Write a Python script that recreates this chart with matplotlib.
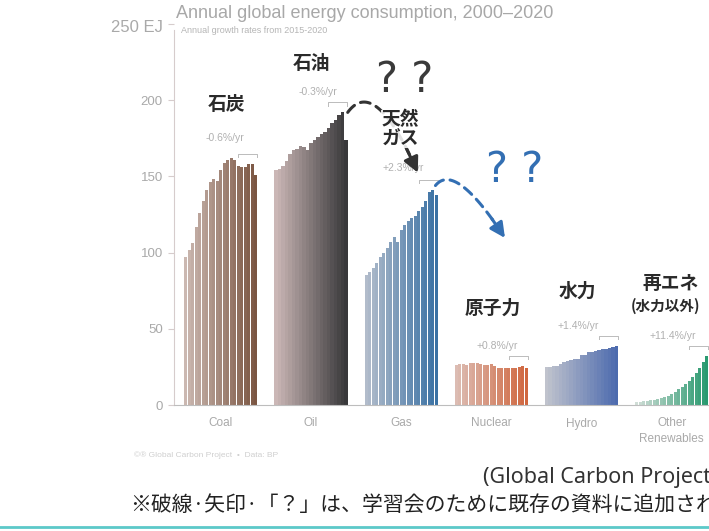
import numpy as np
import matplotlib
matplotlib.use("Agg")
import matplotlib.pyplot as plt
from matplotlib.colors import to_rgb

plt.rcParams['font.family'] = ['Liberation Sans', 'DejaVu Sans']

# ---------------- data (EJ, 2000-2020) ----------------
years = list(range(2000, 2021))
categories = ["Coal", "Oil", "Gas", "Nuclear", "Hydro", "Other\nRenewables"]
coal = [97, 102, 106, 117, 126, 134, 141, 146, 148, 147, 154, 159, 161, 162, 161, 157, 156, 156, 158, 158, 151]
oil = [154, 155, 157, 160, 165, 167, 168, 170, 169, 167, 172, 174, 176, 178, 179, 182, 185, 187, 190, 192, 174]
gas = [85, 87, 90, 93, 97, 100, 103, 107, 110, 107, 115, 118, 121, 123, 124, 127, 130, 134, 140, 141, 138]
nuclear = [26.5, 27, 27, 26.5, 27.5, 27.5, 27.5, 27, 26.5, 26, 27, 25.5, 24, 24, 24.5, 24.5, 24.5, 24.5, 25, 25.5, 24]
hydro = [25, 25, 25.5, 25.5, 27, 28, 29, 29.5, 30.5, 30.5, 32.5, 33, 34.5, 35, 35.5, 36, 36.5, 37, 37.5, 38, 38.5]
other = [2, 2.2, 2.4, 2.7, 3.0, 3.4, 3.9, 4.5, 5.3, 6.2, 7.4, 8.8, 10.4, 12.0, 13.8, 15.9, 18.2, 21.2, 24.5, 28.0, 32.0]
series = [coal, oil, gas, nuclear, hydro, other]
growth = ["-0.6%/yr", "-0.3%/yr", "+2.3%/yr", "+0.8%/yr", "+1.4%/yr", "+11.4%/yr"]
jp_labels = ["石炭", "石油", "天然\nガス", "原子力", "水力", "再エネ"]
yticks = [0, 50, 100, 150, 200, 250]
ytick_labels = ["0", "50", "100", "150", "200", ""]
top_label = "250 EJ"

# colour ramps (first year -> last year)
ramps = [("#cbb8b1", "#7b5642"), ("#cbb7b6", "#38383a"), ("#b2bccb", "#3b72a4"),
         ("#dcbcb3", "#d0673f"), ("#c0c3cd", "#4d6bae"), ("#d0ddd6", "#2a9a70")]

W, H = 709, 531
fig = plt.figure(figsize=(W / 100, H / 100), dpi=100)

# axes placed so that y=0 at 405px, y=250 at 24px, left spine at 174px
ax = fig.add_axes([174 / W, 1 - 405 / H, (W - 174) / W, (405 - 24) / H])
ax.patch.set_alpha(0)
GAP = 25.77
XL = -3.36
ax.set_xlim(XL, XL + (W - 174) / 3.5)
ax.set_ylim(0, 250)

n = len(years)
idx = np.arange(n)
for g, vals in enumerate(series):
    c0, c1 = np.array(to_rgb(ramps[g][0])), np.array(to_rgb(ramps[g][1]))
    t = idx / (n - 1)
    cols = [tuple(c0 + (c1 - c0) * tt) for tt in t]
    ax.bar(g * GAP + idx, vals, width=0.9, color=cols, linewidth=0, zorder=2)

grey = "#a9a9a9"
for s in ["top", "right"]:
    ax.spines[s].set_visible(False)
ax.spines["left"].set_color("#d6cccc")
ax.spines["left"].set_bounds(0, 246)
ax.spines["bottom"].set_color("#bdbdbd")
ax.set_yticks(yticks)
ax.set_yticklabels(ytick_labels, color=grey, fontsize=9.5)
ax.tick_params(axis="y", length=4, color="#d6cccc", pad=4)
ax.text(-0.02, 248, top_label, transform=ax.get_yaxis_transform(), ha="right", va="center",
        color=grey, fontsize=12)
ax.set_xticks([g * GAP + (n - 1) / 2 for g in range(len(categories))])
ax.set_xticklabels(categories, color=grey, fontsize=8.5, linespacing=1.4)
ax.tick_params(axis="x", length=0, pad=9)

# growth-rate brackets and labels
for g, vals in enumerate(series):
    x0, x1 = g * GAP + 15, g * GAP + 20.4
    yb = max(vals[15:]) + 6.5
    ax.plot([x0, x0, x1, x1], [yb - 2, yb, yb, yb - 2], color="#bbbbbb", lw=0.7, zorder=3)

jp = ['Noto Sans CJK JP', 'DejaVu Sans']
lab_pos = [(11.5, 197.5), (35.8, 224.4), (61.3, 181), (87.8, 63.6), (111.8, 74.8), (138.4, 80)]
rate_pos = [(11.2, 175), (37.8, 205.4), (62.1, 155.5), (88.9, 38.7), (112.1, 51.8), (139.2, 45.3)]
for g in range(len(categories)):
    ax.text(*rate_pos[g], growth[g], color="#b0b0b0", fontsize=7.5, ha="center", va="center", zorder=4)

# dashed annotation curves (added in the source)
def dashed_curve(p0, c, p2, color, lw):
    t = np.linspace(0, 1, 60)[:, None]
    p0, c, p2 = map(np.array, (p0, c, p2))
    pts = (1 - t) ** 2 * p0 + 2 * (1 - t) * t * c + t ** 2 * p2
    ax.plot(pts[:-6, 0], pts[:-6, 1], ls=(0, (3.2, 2.2)), color=color, lw=lw, zorder=5,
            dash_capstyle="round")
    ax.annotate("", xy=pts[-1], xytext=pts[-9],
                arrowprops=dict(arrowstyle="-|>,head_length=0.9,head_width=0.45",
                                color=color, lw=lw, shrinkA=0, shrinkB=0), zorder=6)

oil_end = (1 * GAP + n - 0.5, max(oil))
dashed_curve(oil_end, (54.1, 216.5), (66.3, 152.5), "#333333", 2.2)
gas_end = (2 * GAP + n - 1.2, max(gas) + 3)
dashed_curve(gas_end, (77.0, 160.0), (91.2, 109.6), "#336fb3", 2.2)

for g in range(len(categories)):
    kw = {}
    if g == 2:
        kw["bbox"] = dict(facecolor="white", edgecolor="none", pad=0.2, alpha=0.85)
    ax.text(*lab_pos[g], jp_labels[g], family=jp, fontsize=13.5, fontweight="bold",
            color="#2a2a2a", ha="center", va="center", linespacing=1.0, zorder=7, **kw)
ax.text(137.2, 65, "(水力以外)", family=jp, fontsize=10.5, fontweight="bold", color="#2a2a2a",
        ha="center", va="center", zorder=7)

ax.text(62.6, 213.5, "? ?", fontsize=30, color="#3a3a3a", ha="center", va="center",
        family="DejaVu Sans", zorder=7)
ax.text(94.1, 154.2, "? ?", fontsize=30, color="#336fb3", ha="center", va="center",
        family="DejaVu Sans", zorder=7)

# titles and notes (figure pixel positions)
def ftext(px, py, s, **kw):
    fig.text(px / W, 1 - py / H, s, **kw)

ftext(176, 13, "Annual global energy consumption, 2000–2020", color="#a8a8a8", fontsize=13, va="center")
ftext(181, 31, "Annual growth rates from 2015-2020", color="#b5b5b5", fontsize=6.5, va="center")
ftext(134, 455, "©® Global Carbon Project  •  Data: BP", color="#cfcfcf", fontsize=6, va="center")
ftext(483, 477, "(Global Carbon Project)", color="#333333", fontsize=15.5, va="center",
      family=["Noto Sans", "DejaVu Sans"])
ftext(130, 505, "※破線·矢印·「？」は、学習会のために既存の資料に追加されたものです",
      color="#222222", fontsize=15, va="center", family=jp)
fig.add_artist(plt.Line2D([0, 1], [1 - 527 / H, 1 - 527 / H], color="#5cc9c9", lw=2,
                          transform=fig.transFigure))

fig.savefig("out.png", dpi=100, facecolor="white")
